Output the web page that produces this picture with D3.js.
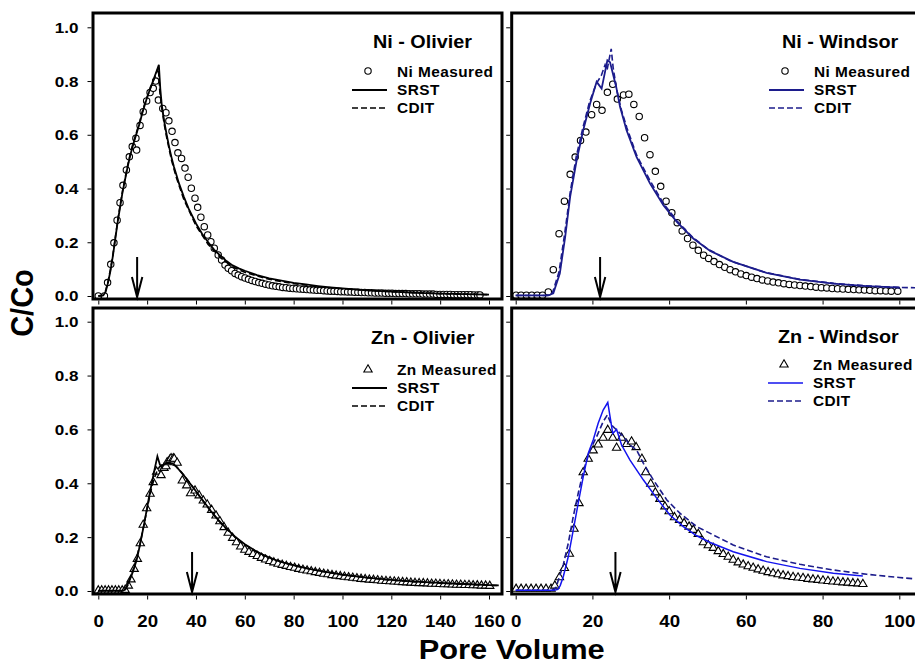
<!DOCTYPE html>
<html>
<head>
<meta charset="utf-8">
<script src="https://cdn.jsdelivr.net/npm/d3@7"></script>
<style>
  html, body { margin: 0; padding: 0; background: #fff; }
  svg { display: block; font-family: "Liberation Sans", Arial, sans-serif; font-weight: bold; }
</style>
</head>
<body>
<svg id="chart" width="915" height="664"></svg>
<script>
// ---- data: [pore volume, C/Co] ----
const niOlivierMeasured = [
  [0, 0], [2.5, 0], [3.8, 0.05], [5.1, 0.118], [6.4, 0.198], [7.7, 0.282], [8.9, 0.347], [10.1, 0.412],
  [11.5, 0.469], [12.7, 0.518], [13.9, 0.556], [15.4, 0.587], [15.7, 0.543], [17.1, 0.635], [18.4, 0.686],
  [19.8, 0.726], [21.2, 0.757], [22.5, 0.773], [23.5, 0.8], [24.6, 0.729], [26.4, 0.698], [27.7, 0.682],
  [28.9, 0.652], [30.2, 0.613], [31.4, 0.571], [32.6, 0.533], [34.1, 0.512], [35.5, 0.476], [36.8, 0.442],
  [38.1, 0.401], [39.6, 0.364], [40.7, 0.33], [42, 0.293], [43.4, 0.258], [44.8, 0.227], [46.1, 0.202],
  [47.5, 0.178], [49.1, 0.153], [50.5, 0.134], [51.9, 0.115], [53.2, 0.103], [54.6, 0.094], [56, 0.084],
  [57.3, 0.078], [58.7, 0.072], [60.1, 0.067], [61.5, 0.062], [62.9, 0.058], [64.3, 0.054], [65.7, 0.05],
  [67.1, 0.047], [68.5, 0.044], [69.9, 0.041], [71.3, 0.038], [72.7, 0.036], [74.1, 0.034], [75.5, 0.032],
  [76.9, 0.031], [78.3, 0.029], [79.7, 0.028], [81.1, 0.027], [82.5, 0.026], [83.9, 0.025], [85.3, 0.024],
  [86.7, 0.023], [88.1, 0.022], [89.5, 0.021], [90.9, 0.021], [92.3, 0.02], [93.7, 0.019], [95.1, 0.018],
  [96.5, 0.018], [97.9, 0.017], [99.3, 0.016], [100.7, 0.016], [102.1, 0.015], [103.5, 0.015], [104.9, 0.014],
  [106.3, 0.014], [107.7, 0.013], [109.1, 0.013], [110.5, 0.012], [111.9, 0.012], [113.3, 0.011], [114.7, 0.011],
  [116.1, 0.011], [117.5, 0.01], [118.9, 0.01], [120.3, 0.01], [121.7, 0.009], [123.1, 0.009], [124.5, 0.009],
  [125.9, 0.009], [127.3, 0.008], [128.7, 0.008], [130.1, 0.008], [131.5, 0.008], [132.9, 0.007], [134.3, 0.007],
  [135.7, 0.007], [137.1, 0.007], [138.5, 0.006], [139.9, 0.006], [141.3, 0.006], [142.7, 0.006], [144.1, 0.006],
  [145.5, 0.005], [146.9, 0.005], [148.3, 0.005], [149.7, 0.005], [151.1, 0.005], [152.5, 0.005], [153.9, 0.004],
  [155.3, 0.004], [156.3, 0.004]
]
const niOlivierSRST = [
  [0, 0], [2, 0.002], [3, 0.015], [4, 0.05], [5, 0.095], [6, 0.15], [7, 0.215], [8, 0.28], [9, 0.335],
  [10, 0.39], [11, 0.435], [12, 0.48], [13, 0.52], [14, 0.555], [15, 0.585], [16, 0.615], [17, 0.645],
  [18, 0.68], [19, 0.71], [20, 0.74], [21, 0.765], [22, 0.79], [23, 0.815], [24, 0.84], [24.8, 0.86],
  [25.4, 0.77], [26, 0.71], [27, 0.65], [28, 0.6], [29, 0.555], [30, 0.515], [31, 0.48], [32, 0.45],
  [33, 0.42], [34, 0.395], [35, 0.37], [37, 0.325], [40, 0.27], [42.5, 0.232], [45, 0.2], [47.5, 0.172],
  [50, 0.15], [52.5, 0.13], [55, 0.114], [57.5, 0.103], [60, 0.094], [65, 0.078], [70, 0.066], [75, 0.057],
  [80, 0.049], [85, 0.043], [90, 0.037], [95, 0.032], [100, 0.028], [110, 0.021], [120, 0.016], [130, 0.012],
  [140, 0.009], [150, 0.007], [160, 0.005]
]
const niOlivierCDIT = [
  [0, 0], [2, 0.003], [3, 0.02], [4, 0.055], [5, 0.1], [6, 0.155], [7, 0.22], [8, 0.285], [9, 0.34],
  [10, 0.395], [11, 0.44], [12, 0.485], [13, 0.525], [14, 0.56], [15, 0.59], [16, 0.62], [17, 0.65],
  [18, 0.685], [19, 0.715], [20, 0.74], [21, 0.765], [22, 0.79], [23, 0.81], [24, 0.835], [24.6, 0.85],
  [25.2, 0.76], [26, 0.7], [27, 0.64], [28, 0.59], [30, 0.505], [32, 0.44], [35, 0.36], [40, 0.262],
  [45, 0.192], [50, 0.143], [55, 0.108], [60, 0.088], [70, 0.062], [80, 0.046], [90, 0.035], [100, 0.027],
  [120, 0.016], [140, 0.009], [160, 0.005]
]

const niWindsorMeasured = [
  [0.1, 0.003], [1.4, 0.003], [2.8, 0.003], [4.2, 0.003], [5.6, 0.003], [7.0, 0.003], [8.5, 0.015],
  [9.8, 0.098], [11.3, 0.232], [12.7, 0.353], [14.2, 0.453], [15.5, 0.517], [16.9, 0.579], [18.3, 0.61],
  [19.8, 0.675], [21.1, 0.713], [22.5, 0.691], [23.9, 0.758], [25.3, 0.788], [26.5, 0.733], [28.1, 0.748],
  [29.5, 0.751], [30.8, 0.713], [32.2, 0.668], [33.6, 0.589], [35, 0.526], [36.4, 0.464], [37.8, 0.408],
  [39.2, 0.353], [40.7, 0.31], [42.1, 0.273], [43.4, 0.242], [44.8, 0.214], [46.2, 0.189], [47.6, 0.17],
  [49, 0.152], [50.3, 0.14], [51.7, 0.128], [53.1, 0.117], [54.5, 0.107], [55.9, 0.098], [57.3, 0.09],
  [58.7, 0.082], [60.1, 0.076], [61.5, 0.07], [62.9, 0.065], [64.3, 0.06], [65.7, 0.056], [67.1, 0.052],
  [68.5, 0.049], [69.9, 0.046], [71.3, 0.043], [72.7, 0.041], [74.1, 0.039], [75.5, 0.037], [76.9, 0.035],
  [78.3, 0.033], [79.7, 0.031], [81.1, 0.03], [82.5, 0.028], [83.9, 0.027], [85.3, 0.026], [86.7, 0.025],
  [88.1, 0.024], [89.5, 0.023], [90.9, 0.022], [92.3, 0.021], [93.7, 0.02], [95.1, 0.02], [96.5, 0.019],
  [97.9, 0.018], [99.6, 0.018]
]
const niWindsorSRST = [
  [0, 0.002], [8.5, 0.002], [9.8, 0.01], [11.5, 0.084], [12.9, 0.22], [14.2, 0.37], [15.9, 0.506],
  [17.6, 0.617], [19.4, 0.716], [21.1, 0.797], [22.4, 0.772], [23.9, 0.877], [24.6, 0.87], [26.2, 0.778],
  [27.2, 0.704], [28.9, 0.617], [31.5, 0.518], [35, 0.419], [38.5, 0.338], [42, 0.276], [46.3, 0.214],
  [50.7, 0.168], [56.7, 0.127], [65.4, 0.086], [74.1, 0.061], [82.8, 0.046], [91.5, 0.037], [100.2, 0.031]
]
const niWindsorCDIT = [
  [0, 0.002], [8.2, 0.002], [9.6, 0.012], [11.3, 0.09], [12.8, 0.235], [14.2, 0.385], [15.8, 0.52],
  [17.5, 0.625], [19.2, 0.72], [21, 0.79], [22.3, 0.82], [23.3, 0.86], [23.8, 0.84], [24.9, 0.92],
  [25.4, 0.85], [26.3, 0.77], [27.5, 0.695], [29, 0.625], [31.5, 0.525], [35, 0.43], [38.5, 0.345],
  [42, 0.28], [46, 0.22], [50, 0.175], [56, 0.13], [65, 0.088], [74, 0.062], [83, 0.047], [91, 0.038],
  [100, 0.032], [106, 0.03]
]

const znOlivierMeasured = [
  [0, 0.004], [1.4, 0.004], [2.8, 0.004], [4.2, 0.004], [5.6, 0.004], [7.0, 0.004], [8.4, 0.004], [9.8, 0.004],
  [11.0, 0.006], [12.3, 0.022], [13.4, 0.045], [14.7, 0.084], [16, 0.121], [17.2, 0.179], [18.4, 0.248],
  [19.8, 0.309], [21.2, 0.363], [22.5, 0.406], [23.9, 0.445], [25.7, 0.432], [26.9, 0.459], [27.7, 0.465],
  [28.2, 0.48], [29.3, 0.49], [29.8, 0.495], [30.7, 0.495], [31.1, 0.493], [32.3, 0.478], [34.4, 0.412],
  [36.2, 0.394], [37.8, 0.365], [39.6, 0.375], [41.3, 0.357], [43, 0.338], [44.6, 0.323], [46.4, 0.303],
  [48.2, 0.282], [49.8, 0.261], [51.5, 0.239], [53.2, 0.218], [55, 0.199], [56.6, 0.183], [58.3, 0.167],
  [60, 0.155], [61.7, 0.147], [63.4, 0.139], [65.1, 0.132], [66.8, 0.125], [68.5, 0.119], [70.2, 0.113],
  [71.9, 0.108], [73.6, 0.103], [75.3, 0.099], [77.0, 0.095], [78.7, 0.091], [80.4, 0.088], [82.1, 0.084],
  [83.8, 0.081], [85.5, 0.078], [87.2, 0.075], [88.9, 0.072], [90.6, 0.069], [92.3, 0.066], [94.0, 0.064],
  [95.7, 0.061], [97.4, 0.059], [99.1, 0.057], [100.8, 0.055], [102.5, 0.053], [104.2, 0.051], [105.9, 0.049],
  [107.6, 0.047], [109.3, 0.046], [111.0, 0.044], [112.7, 0.043], [114.4, 0.042], [116.1, 0.04], [117.8, 0.039],
  [119.5, 0.038], [121.2, 0.037], [122.9, 0.036], [124.6, 0.035], [126.3, 0.034], [128.0, 0.033], [129.7, 0.032],
  [131.4, 0.031], [133.1, 0.031], [134.8, 0.03], [136.5, 0.029], [138.2, 0.029], [139.9, 0.028], [141.6, 0.027],
  [143.3, 0.027], [145.0, 0.026], [146.7, 0.025], [148.4, 0.025], [150.1, 0.024], [151.8, 0.024], [153.5, 0.023],
  [155.2, 0.023], [156.9, 0.022], [158.6, 0.022], [160.3, 0.021]
]
const znOlivierSRST = [
  [0, 0.001], [10, 0.001], [11, 0.005], [11.6, 0.016], [12.5, 0.035], [13.7, 0.06], [15, 0.095], [15.7, 0.115],
  [16.8, 0.16], [17.8, 0.205], [18.8, 0.25], [19.8, 0.3], [20.8, 0.35], [21.9, 0.4], [23, 0.45], [24.2, 0.5],
  [25.2, 0.47], [25.8, 0.462], [27.3, 0.472], [29, 0.475], [30.5, 0.472], [32, 0.462], [34, 0.44],
  [35.5, 0.424], [37.5, 0.4], [39.6, 0.375], [41.5, 0.352], [43.7, 0.326], [46, 0.298], [49, 0.265],
  [52, 0.236], [56, 0.202], [60, 0.174], [64, 0.151], [68, 0.132], [72, 0.117], [76, 0.105], [80, 0.096],
  [85, 0.085], [90, 0.076], [95, 0.068], [100, 0.061], [110, 0.05], [120, 0.041], [130, 0.035], [140, 0.03],
  [150, 0.026], [160, 0.022], [164, 0.021]
]
const znOlivierCDIT = [
  [0, 0.001], [10, 0.001], [11, 0.004], [12, 0.02], [13, 0.045], [14, 0.07], [15, 0.1], [16, 0.135],
  [17, 0.17], [18, 0.215], [19, 0.26], [20, 0.305], [21, 0.35], [22, 0.39], [23, 0.42], [24, 0.445],
  [25, 0.46], [26, 0.468], [27, 0.473], [28, 0.476], [29, 0.476], [30, 0.474], [31, 0.469], [32, 0.461],
  [34, 0.442], [36, 0.419], [38, 0.395], [40, 0.37], [43, 0.333], [46, 0.297], [49, 0.264], [52, 0.234],
  [56, 0.2], [60, 0.172], [65, 0.145], [70, 0.124], [75, 0.108], [80, 0.095], [90, 0.075], [100, 0.06],
  [110, 0.049], [120, 0.04], [130, 0.034], [140, 0.029], [150, 0.025], [160, 0.021], [164, 0.02]
]

const znWindsorMeasured = [
  [0.1, 0.01], [1.4, 0.01], [2.7, 0.01], [4, 0.01], [5.3, 0.01], [6.6, 0.01], [7.9, 0.01], [9.2, 0.01],
  [10.2, 0.022], [11.4, 0.053], [12.7, 0.087], [14, 0.14], [15.2, 0.233], [16.5, 0.328], [17.6, 0.443],
  [18.9, 0.493], [20.2, 0.524], [21.5, 0.546], [22.8, 0.571], [24, 0.6], [25.3, 0.571], [26.3, 0.534],
  [27.6, 0.571], [28.9, 0.548], [30.2, 0.557], [31.4, 0.536], [32.9, 0.493], [33.9, 0.443], [35.2, 0.4],
  [36.4, 0.368], [37.6, 0.344], [38.9, 0.316], [40, 0.298], [41.4, 0.276], [42.7, 0.266], [43.9, 0.254],
  [45.2, 0.241], [46.3, 0.229], [47.6, 0.214], [48.9, 0.183], [50.2, 0.172], [51.5, 0.162], [52.8, 0.15],
  [54.1, 0.139], [55.4, 0.129], [56.7, 0.118], [58, 0.108], [59.3, 0.1], [60.6, 0.094], [61.9, 0.088],
  [63.2, 0.082], [64.5, 0.077], [65.8, 0.072], [67.1, 0.068], [68.4, 0.064], [69.7, 0.06], [71, 0.057],
  [72.3, 0.054], [73.6, 0.052], [74.9, 0.05], [76.2, 0.047], [77.5, 0.045], [78.8, 0.043], [80.1, 0.041],
  [81.4, 0.039], [82.7, 0.037], [84, 0.036], [85.3, 0.034], [86.6, 0.033], [87.9, 0.031], [89.2, 0.03],
  [90.5, 0.028]
]
const znWindsorSRST = [
  [0, 0.003], [10, 0.003], [11, 0.006], [11.6, 0.02], [12.4, 0.053], [13.7, 0.127], [15, 0.226],
  [16.3, 0.326], [17.6, 0.424], [18.9, 0.511], [20.2, 0.561], [21.5, 0.623], [22.8, 0.672], [24, 0.7],
  [25.3, 0.585], [26.3, 0.6], [27.6, 0.542], [29.8, 0.486], [33.3, 0.412], [36.8, 0.344], [40.2, 0.282],
  [43.7, 0.239], [47.2, 0.205], [50.7, 0.18], [56.7, 0.146], [65.4, 0.109], [74.1, 0.084], [82.8, 0.066],
  [90.5, 0.056]
]
const znWindsorCDIT = [
  [0, 0.003], [9.5, 0.003], [10.5, 0.012], [11.1, 0.04], [12.4, 0.097], [13.7, 0.177], [15, 0.276],
  [16.3, 0.363], [17.6, 0.443], [19.4, 0.524], [21.1, 0.573], [22.8, 0.629], [23.9, 0.654], [25, 0.616],
  [26.3, 0.598], [28.1, 0.573], [29.8, 0.542], [31.5, 0.524], [33.3, 0.474], [35.9, 0.412], [39.4, 0.338],
  [42.8, 0.289], [47.2, 0.239], [50.7, 0.214], [56.7, 0.171], [65.4, 0.127], [74.1, 0.099], [82.8, 0.078],
  [91.5, 0.062], [100, 0.05], [106, 0.043]
]

// ---- ticks, titles, annotations ----
const yTicks = [0, 0.2, 0.4, 0.6, 0.8, 1.0]
const olivierXTicks = [0, 20, 40, 60, 80, 100, 120, 140, 160]
const windsorXTicks = [0, 20, 40, 60, 80, 100]
const panelTitles = ['Ni - Olivier', 'Ni - Windsor', 'Zn - Olivier', 'Zn - Windsor']
const measuredLabels = ['Ni Measured', 'Ni Measured', 'Zn Measured', 'Zn Measured']
const modelLabels = ['SRST', 'CDIT']
const arrowPV = [15.9, 22.0, 38.4, 26.0]

const svg = d3.select('#chart')
const STRETCH = 1.1 // the figure is slightly wider than tall in its glyphs
const NAVY = '#1c1c8c'
const BLUE = '#1414ee'

const stretchedText = (g, x, y, str, size, anchor = 'start') => g.append('text')
  .attr('transform', `translate(${x},${y}) scale(${STRETCH},1)`)
  .attr('text-anchor', anchor)
  .style('font-size', `${size}px`)
  .text(str)

const panels = [
  {
    measured: niOlivierMeasured, srst: niOlivierSRST, cdit: niOlivierCDIT, marker: 'circle',
    srstColor: '#000', cditColor: '#000', frame: { x: 93, y: 13, w: 409, h: 286 },
    xDomain: [0, 160], xRange: [98.3, 489], yRange: [296, 27.3], xTicks: olivierXTicks,
    xLabels: false, yLabels: true, title: [373, 48], legend: [352, 71],
  },
  {
    measured: niWindsorMeasured, srst: niWindsorSRST, cdit: niWindsorCDIT, marker: 'circle',
    srstColor: NAVY, cditColor: NAVY, frame: { x: 511.7, y: 13, w: 430, h: 286 },
    xDomain: [0, 100], xRange: [515.7, 899.3], yRange: [296, 27.3], xTicks: windsorXTicks,
    xLabels: false, yLabels: false, title: [782, 48], legend: [769, 71],
  },
  {
    measured: znOlivierMeasured, srst: znOlivierSRST, cdit: znOlivierCDIT, marker: 'triangle',
    srstColor: '#000', cditColor: '#000', frame: { x: 93, y: 308, w: 409, h: 286 },
    xDomain: [0, 160], xRange: [98.3, 489], yRange: [591, 321.7], xTicks: olivierXTicks,
    xLabels: true, yLabels: true, title: [371, 344], legend: [352, 369],
  },
  {
    measured: znWindsorMeasured, srst: znWindsorSRST, cdit: znWindsorCDIT, marker: 'triangle',
    srstColor: BLUE, cditColor: NAVY, frame: { x: 511.7, y: 308, w: 430, h: 286 },
    xDomain: [0, 100], xRange: [515.7, 899.3], yRange: [591, 321.7], xTicks: windsorXTicks,
    xLabels: true, yLabels: false, title: [778, 343], legend: [768, 364],
  },
]

const triangle = d3.symbol(d3.symbolTriangle, 30)

function drawMarker (sel, kind) {
  if (kind === 'circle') {
    sel.append('circle').attr('r', 3.2)
  } else {
    sel.append('path').attr('d', triangle).attr('transform', 'translate(0,0.6)')
  }
  sel.selectAll('circle, path')
    .attr('fill', '#fff')
    .attr('stroke', '#000')
    .attr('stroke-width', 1.1)
}

panels.forEach((p, i) => {
  const x = d3.scaleLinear().domain(p.xDomain).range(p.xRange)
  const y = d3.scaleLinear().domain([0, 1]).range(p.yRange)
  const g = svg.append('g').attr('class', `panel panel-${i}`)
  const f = p.frame

  g.append('clipPath').attr('id', `clip-${i}`)
    .append('rect').attr('x', f.x).attr('y', f.y).attr('width', f.w).attr('height', f.h)
  const plot = g.append('g').attr('clip-path', `url(#clip-${i})`)

  // measured points
  plot.append('g').selectAll('g')
    .data(p.measured)
    .join('g')
    .attr('transform', d => `translate(${x(d[0])},${y(d[1])})`)
    .each(function () { drawMarker(d3.select(this), p.marker) })

  // model curves
  const line = d3.line().x(d => x(d[0])).y(d => y(d[1]))
  plot.append('path').datum(p.cdit)
    .attr('d', line).attr('fill', 'none')
    .attr('stroke', p.cditColor).attr('stroke-width', 1.6).attr('stroke-dasharray', '6,3')
  plot.append('path').datum(p.srst)
    .attr('d', line).attr('fill', 'none')
    .attr('stroke', p.srstColor).attr('stroke-width', p.srstColor === BLUE ? 1.5 : 1.8)

  // arrow marking pore volume
  const ax = x(arrowPV[i])
  const aTop = y(0.145)
  const aBot = y(-0.004)
  g.append('path')
    .attr('d', `M${ax},${aTop}V${aBot}M${ax - 5.2},${aBot - 20}L${ax},${aBot}L${ax + 5.2},${aBot - 20}`)
    .attr('fill', 'none').attr('stroke', '#000').attr('stroke-width', 2)

  // frame
  g.append('rect').attr('x', f.x).attr('y', f.y).attr('width', f.w).attr('height', f.h)
    .attr('fill', 'none').attr('stroke', '#000').attr('stroke-width', 3)

  // axes
  const yAxis = d3.axisLeft(y).tickValues(yTicks).tickSize(4).tickPadding(9)
    .tickFormat(p.yLabels ? d3.format('.1f') : () => '')
  const ya = g.append('g').attr('transform', `translate(${f.x - 1.5},0)`).call(yAxis)
  const xAxis = d3.axisBottom(x).tickValues(p.xTicks).tickSize(4).tickPadding(15)
    .tickFormat(p.xLabels ? d3.format('d') : () => '')
  const xa = g.append('g').attr('transform', `translate(0,${f.y + f.h + 1.5})`).call(xAxis)
  ;[ya, xa].forEach(a => {
    a.select('.domain').remove()
    a.selectAll('line').attr('stroke', '#000').attr('stroke-width', 1)
    a.selectAll('text')
      .attr('fill', '#000')
      .style('font-family', '"Liberation Sans", Arial, sans-serif')
      .style('font-weight', 'bold')
  })
  ya.selectAll('text').style('font-size', '15.5px')
    .attr('x', -13 / STRETCH).attr('transform', `scale(${STRETCH},1)`)
  xa.selectAll('text').style('font-size', '17px')
    .attr('transform', `scale(${STRETCH},1)`)

  // title
  stretchedText(g, p.title[0], p.title[1], panelTitles[i], 18)

  // legend
  const [lx, ly] = p.legend
  const lg = g.append('g')
  drawMarker(lg.append('g').attr('transform', `translate(${lx + 16},${ly})`), p.marker)
  lg.append('line').attr('x1', lx).attr('x2', lx + 35).attr('y1', ly + 19).attr('y2', ly + 19)
    .attr('stroke', p.srstColor).attr('stroke-width', p.srstColor === BLUE ? 1.5 : 1.8)
  lg.append('line').attr('x1', lx).attr('x2', lx + 35).attr('y1', ly + 37).attr('y2', ly + 37)
    .attr('stroke', p.cditColor).attr('stroke-width', 1.6).attr('stroke-dasharray', '6,3')
  stretchedText(lg, lx + 45, ly + 6, measuredLabels[i], 14).style('letter-spacing', '0.4px')
  stretchedText(lg, lx + 45, ly + 24, modelLabels[0], 14).style('letter-spacing', '0.4px')
  stretchedText(lg, lx + 45, ly + 42, modelLabels[1], 14).style('letter-spacing', '0.4px')
})

// axis titles
svg.append('text')
  .attr('transform', `translate(33,303) scale(${STRETCH},1) rotate(-90)`)
  .attr('text-anchor', 'middle')
  .style('font-size', '29px')
  .text('C/Co')
stretchedText(svg, 511.7, 658.5, 'Pore Volume', 28, 'middle')
</script>
</body>
</html>
